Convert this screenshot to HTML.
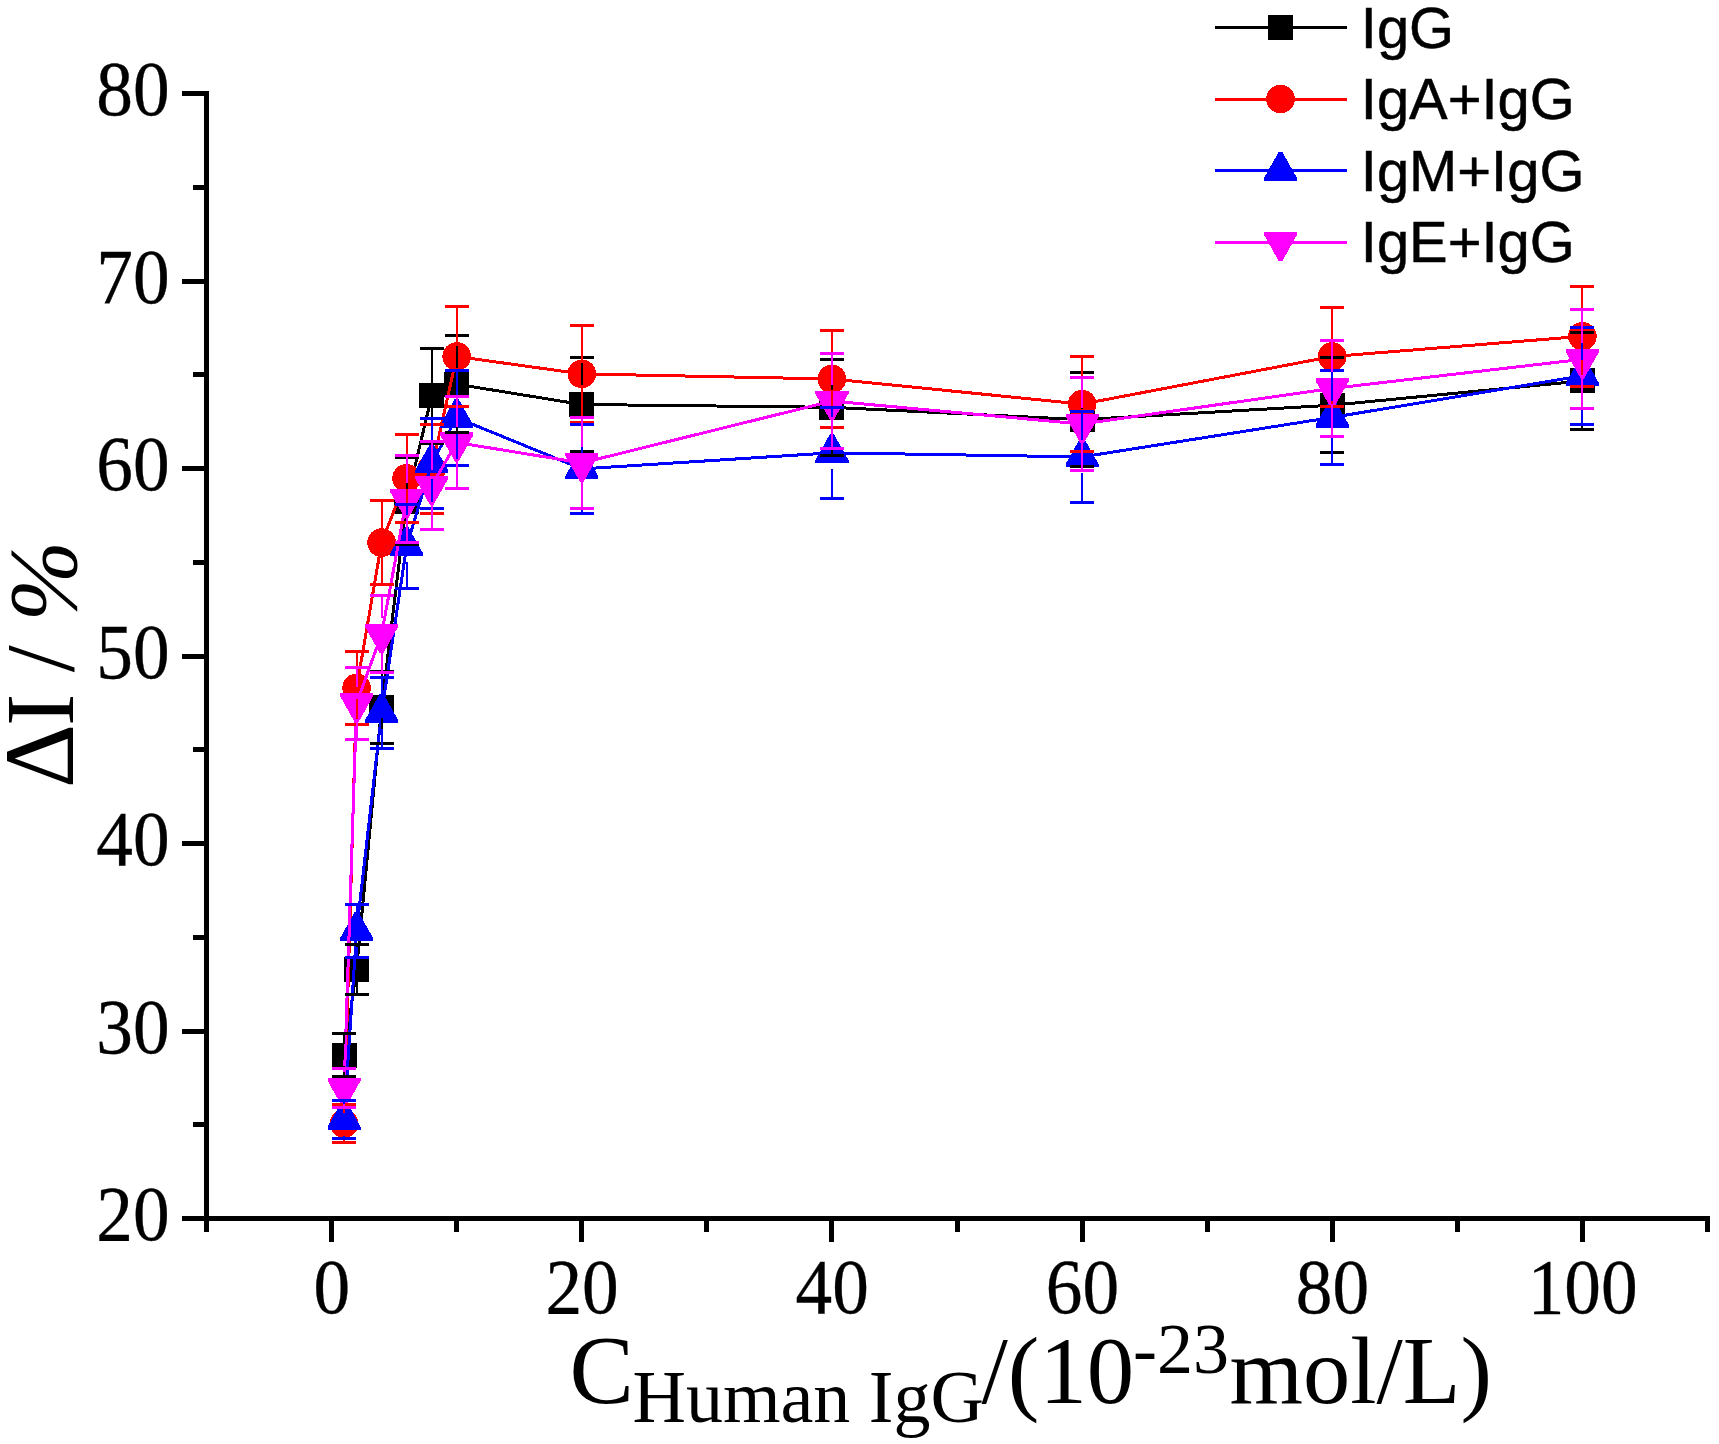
<!DOCTYPE html>
<html lang="en"><head><meta charset="utf-8"><title>ΔI / % vs C Human IgG</title>
<style>html,body{margin:0;padding:0;background:#fff}body{width:1719px;height:1444px;overflow:hidden}svg{display:block}</style>
</head><body>
<svg width="1719" height="1444" viewBox="0 0 1719 1444">
<rect width="1719" height="1444" fill="#ffffff"/>
<g stroke="#000" stroke-width="5" fill="none" shape-rendering="crispEdges">
<line x1="206.5" y1="91.0" x2="206.5" y2="1232"/>
<line x1="182" y1="1218.5" x2="1710" y2="1218.5"/>
<line x1="193" y1="1124.8" x2="206.5" y2="1124.8"/>
<line x1="182" y1="1031.0" x2="206.5" y2="1031.0"/>
<line x1="193" y1="937.2" x2="206.5" y2="937.2"/>
<line x1="182" y1="843.5" x2="206.5" y2="843.5"/>
<line x1="193" y1="749.8" x2="206.5" y2="749.8"/>
<line x1="182" y1="656.0" x2="206.5" y2="656.0"/>
<line x1="193" y1="562.2" x2="206.5" y2="562.2"/>
<line x1="182" y1="468.5" x2="206.5" y2="468.5"/>
<line x1="193" y1="374.8" x2="206.5" y2="374.8"/>
<line x1="182" y1="281.0" x2="206.5" y2="281.0"/>
<line x1="193" y1="187.2" x2="206.5" y2="187.2"/>
<line x1="182" y1="93.5" x2="206.5" y2="93.5"/>
<line x1="206.5" y1="1218.5" x2="206.5" y2="1232"/>
<line x1="331.6" y1="1218.5" x2="331.6" y2="1242"/>
<line x1="456.7" y1="1218.5" x2="456.7" y2="1232"/>
<line x1="581.8" y1="1218.5" x2="581.8" y2="1242"/>
<line x1="706.8" y1="1218.5" x2="706.8" y2="1232"/>
<line x1="831.9" y1="1218.5" x2="831.9" y2="1242"/>
<line x1="957.0" y1="1218.5" x2="957.0" y2="1232"/>
<line x1="1082.1" y1="1218.5" x2="1082.1" y2="1242"/>
<line x1="1207.2" y1="1218.5" x2="1207.2" y2="1232"/>
<line x1="1332.2" y1="1218.5" x2="1332.2" y2="1242"/>
<line x1="1457.3" y1="1218.5" x2="1457.3" y2="1232"/>
<line x1="1582.4" y1="1218.5" x2="1582.4" y2="1242"/>
<line x1="1707.5" y1="1218.5" x2="1707.5" y2="1232"/>
</g>
<g font-family="'Liberation Serif', 'Times New Roman', serif" font-size="78" fill="#000" stroke="#000" stroke-width="0.35">
<text transform="translate(169.6,1240.1) scale(0.94,1)" text-anchor="end">20</text>
<text transform="translate(169.6,1052.6) scale(0.94,1)" text-anchor="end">30</text>
<text transform="translate(169.6,865.1) scale(0.94,1)" text-anchor="end">40</text>
<text transform="translate(169.6,677.6) scale(0.94,1)" text-anchor="end">50</text>
<text transform="translate(169.6,490.1) scale(0.94,1)" text-anchor="end">60</text>
<text transform="translate(169.6,302.6) scale(0.94,1)" text-anchor="end">70</text>
<text transform="translate(169.6,115.1) scale(0.94,1)" text-anchor="end">80</text>
<text transform="translate(331.9,1313) scale(0.94,1)" text-anchor="middle">0</text>
<text transform="translate(582.1,1313) scale(0.94,1)" text-anchor="middle">20</text>
<text transform="translate(832.2,1313) scale(0.94,1)" text-anchor="middle">40</text>
<text transform="translate(1082.4,1313) scale(0.94,1)" text-anchor="middle">60</text>
<text transform="translate(1332.5,1313) scale(0.94,1)" text-anchor="middle">80</text>
<text transform="translate(1582.7,1313) scale(0.94,1)" text-anchor="middle">100</text>
</g>
<polyline points="344.1,1055.0 356.6,969.4 381.6,707.2 406.6,501.4 431.7,395.9 456.7,384.2 581.8,404.5 831.9,407.3 1082.1,419.7 1332.2,405.2 1582.4,380.9" fill="none" stroke="#000000" stroke-width="3" stroke-linejoin="round" shape-rendering="crispEdges"/>
<g shape-rendering="crispEdges">
<rect x="331.6" y="1042.5" width="25" height="25" fill="#000000"/>
<rect x="344.1" y="956.9" width="25" height="25" fill="#000000"/>
<rect x="369.1" y="694.7" width="25" height="25" fill="#000000"/>
<rect x="394.1" y="488.9" width="25" height="25" fill="#000000"/>
<rect x="419.2" y="383.4" width="25" height="25" fill="#000000"/>
<rect x="444.2" y="371.7" width="25" height="25" fill="#000000"/>
<rect x="569.3" y="392.0" width="25" height="25" fill="#000000"/>
<rect x="819.4" y="394.8" width="25" height="25" fill="#000000"/>
<rect x="1069.6" y="407.2" width="25" height="25" fill="#000000"/>
<rect x="1319.7" y="392.7" width="25" height="25" fill="#000000"/>
<rect x="1569.9" y="368.4" width="25" height="25" fill="#000000"/>
</g>
<polyline points="344.1,1123.6 356.6,687.9 381.6,542.6 406.6,478.3 431.7,468.9 456.7,356.5 581.8,373.9 831.9,379.0 1082.1,404.1 1332.2,356.5 1582.4,336.3" fill="none" stroke="#ff0000" stroke-width="3" stroke-linejoin="round" shape-rendering="crispEdges"/>
<g shape-rendering="crispEdges">
<circle cx="344.1" cy="1123.6" r="14.3" fill="#ff0000"/>
<circle cx="356.6" cy="687.9" r="14.3" fill="#ff0000"/>
<circle cx="381.6" cy="542.6" r="14.3" fill="#ff0000"/>
<circle cx="406.6" cy="478.3" r="14.3" fill="#ff0000"/>
<circle cx="431.7" cy="468.9" r="14.3" fill="#ff0000"/>
<circle cx="456.7" cy="356.5" r="14.3" fill="#ff0000"/>
<circle cx="581.8" cy="373.9" r="14.3" fill="#ff0000"/>
<circle cx="831.9" cy="379.0" r="14.3" fill="#ff0000"/>
<circle cx="1082.1" cy="404.1" r="14.3" fill="#ff0000"/>
<circle cx="1332.2" cy="356.5" r="14.3" fill="#ff0000"/>
<circle cx="1582.4" cy="336.3" r="14.3" fill="#ff0000"/>
</g>
<polyline points="344.1,1119.5 356.6,930.9 381.6,712.8 406.6,546.2 431.7,463.1 456.7,417.8 581.8,468.9 831.9,452.8 1082.1,456.9 1332.2,417.4 1582.4,375.8" fill="none" stroke="#0000ff" stroke-width="3" stroke-linejoin="round" shape-rendering="crispEdges"/>
<g shape-rendering="crispEdges">
<polygon points="342.4,1100.3 345.8,1100.3 360.7,1126.9 360.7,1129.6 327.5,1129.6 327.5,1126.9" fill="#0000ff"/>
<polygon points="354.9,911.7 358.3,911.7 373.2,938.3 373.2,941.0 340.0,941.0 340.0,938.3" fill="#0000ff"/>
<polygon points="379.9,693.6 383.3,693.6 398.2,720.2 398.2,722.9 365.0,722.9 365.0,720.2" fill="#0000ff"/>
<polygon points="404.9,527.0 408.3,527.0 423.2,553.6 423.2,556.3 390.0,556.3 390.0,553.6" fill="#0000ff"/>
<polygon points="430.0,443.9 433.4,443.9 448.3,470.5 448.3,473.2 415.1,473.2 415.1,470.5" fill="#0000ff"/>
<polygon points="455.0,398.6 458.4,398.6 473.3,425.2 473.3,427.9 440.1,427.9 440.1,425.2" fill="#0000ff"/>
<polygon points="580.1,449.7 583.5,449.7 598.4,476.3 598.4,479.0 565.2,479.0 565.2,476.3" fill="#0000ff"/>
<polygon points="830.2,433.6 833.6,433.6 848.5,460.2 848.5,462.9 815.3,462.9 815.3,460.2" fill="#0000ff"/>
<polygon points="1080.4,437.7 1083.8,437.7 1098.7,464.3 1098.7,467.0 1065.5,467.0 1065.5,464.3" fill="#0000ff"/>
<polygon points="1330.5,398.2 1333.9,398.2 1348.8,424.8 1348.8,427.5 1315.6,427.5 1315.6,424.8" fill="#0000ff"/>
<polygon points="1580.7,356.6 1584.1,356.6 1599.0,383.2 1599.0,385.9 1565.8,385.9 1565.8,383.2" fill="#0000ff"/>
</g>
<polyline points="344.1,1088.0 356.6,703.4 381.6,634.1 406.6,499.1 431.7,485.8 456.7,442.5 581.8,462.9 831.9,401.1 1082.1,424.0 1332.2,388.4 1582.4,359.3" fill="none" stroke="#ff00ff" stroke-width="3" stroke-linejoin="round" shape-rendering="crispEdges"/>
<g shape-rendering="crispEdges">
<polygon points="342.4,1107.2 345.8,1107.2 360.7,1080.6 360.7,1077.9 327.5,1077.9 327.5,1080.6" fill="#ff00ff"/>
<polygon points="354.9,722.6 358.3,722.6 373.2,696.0 373.2,693.3 340.0,693.3 340.0,696.0" fill="#ff00ff"/>
<polygon points="379.9,653.3 383.3,653.3 398.2,626.7 398.2,624.0 365.0,624.0 365.0,626.7" fill="#ff00ff"/>
<polygon points="404.9,518.3 408.3,518.3 423.2,491.7 423.2,489.0 390.0,489.0 390.0,491.7" fill="#ff00ff"/>
<polygon points="430.0,505.0 433.4,505.0 448.3,478.4 448.3,475.7 415.1,475.7 415.1,478.4" fill="#ff00ff"/>
<polygon points="455.0,461.7 458.4,461.7 473.3,435.1 473.3,432.4 440.1,432.4 440.1,435.1" fill="#ff00ff"/>
<polygon points="580.1,482.1 583.5,482.1 598.4,455.5 598.4,452.8 565.2,452.8 565.2,455.5" fill="#ff00ff"/>
<polygon points="830.2,420.3 833.6,420.3 848.5,393.7 848.5,391.0 815.3,391.0 815.3,393.7" fill="#ff00ff"/>
<polygon points="1080.4,443.2 1083.8,443.2 1098.7,416.6 1098.7,413.9 1065.5,413.9 1065.5,416.6" fill="#ff00ff"/>
<polygon points="1330.5,407.6 1333.9,407.6 1348.8,381.0 1348.8,378.3 1315.6,378.3 1315.6,381.0" fill="#ff00ff"/>
<polygon points="1580.7,378.5 1584.1,378.5 1599.0,351.9 1599.0,349.2 1565.8,349.2 1565.8,351.9" fill="#ff00ff"/>
</g>
<g stroke="#000000" stroke-width="3" fill="none" shape-rendering="crispEdges">
<path d="M344.1,1033.6V1044.0M344.1,1066.0V1076.4" stroke-width="2"/>
<path d="M332.1,1033.6H356.1M332.1,1076.4H356.1"/>
<path d="M356.6,944.6V958.4M356.6,980.4V994.1" stroke-width="2"/>
<path d="M344.6,944.6H368.6M344.6,994.1H368.6"/>
<path d="M381.6,671.4V696.2M381.6,718.2V743.0" stroke-width="2"/>
<path d="M369.6,671.4H393.6M369.6,743.0H393.6"/>
<path d="M406.6,457.9V490.4M406.6,512.4V544.8" stroke-width="2"/>
<path d="M394.6,457.9H418.6M394.6,544.8H418.6"/>
<path d="M431.7,348.1V384.9M431.7,406.9V443.6" stroke-width="2"/>
<path d="M419.7,348.1H443.7M419.7,443.6H443.7"/>
<path d="M456.7,335.9V373.2M456.7,395.2V432.6" stroke-width="2"/>
<path d="M444.7,335.9H468.7M444.7,432.6H468.7"/>
<path d="M581.8,357.1V393.5M581.8,415.5V451.9" stroke-width="2"/>
<path d="M569.8,357.1H593.8M569.8,451.9H593.8"/>
<path d="M831.9,359.5V396.3M831.9,418.3V455.1" stroke-width="2"/>
<path d="M819.9,359.5H843.9M819.9,455.1H843.9"/>
<path d="M1082.1,372.8V408.7M1082.1,430.7V466.5" stroke-width="2"/>
<path d="M1070.1,372.8H1094.1M1070.1,466.5H1094.1"/>
<path d="M1332.2,357.6V394.2M1332.2,416.2V452.8" stroke-width="2"/>
<path d="M1320.2,357.6H1344.2M1320.2,452.8H1344.2"/>
<path d="M1582.4,332.5V369.9M1582.4,391.9V429.2" stroke-width="2"/>
<path d="M1570.4,332.5H1594.4M1570.4,429.2H1594.4"/>
</g>
<g stroke="#ff0000" stroke-width="3" fill="none" shape-rendering="crispEdges">
<path d="M344.1,1104.9V1112.6M344.1,1134.6V1142.3" stroke-width="2"/>
<path d="M332.1,1104.9H356.1M332.1,1142.3H356.1"/>
<path d="M356.6,651.7V676.9M356.6,698.9V724.0" stroke-width="2"/>
<path d="M344.6,651.7H368.6M344.6,724.0H368.6"/>
<path d="M381.6,500.6V531.6M381.6,553.6V584.6" stroke-width="2"/>
<path d="M369.6,500.6H393.6M369.6,584.6H393.6"/>
<path d="M406.6,434.1V467.3M406.6,489.3V522.5" stroke-width="2"/>
<path d="M394.6,434.1H418.6M394.6,522.5H418.6"/>
<path d="M431.7,424.0V457.9M431.7,479.9V513.9" stroke-width="2"/>
<path d="M419.7,424.0H443.7M419.7,513.9H443.7"/>
<path d="M456.7,306.8V345.5M456.7,367.5V406.2" stroke-width="2"/>
<path d="M444.7,306.8H468.7M444.7,406.2H468.7"/>
<path d="M581.8,325.2V362.9M581.8,384.9V422.7" stroke-width="2"/>
<path d="M569.8,325.2H593.8M569.8,422.7H593.8"/>
<path d="M831.9,330.6V368.0M831.9,390.0V427.3" stroke-width="2"/>
<path d="M819.9,330.6H843.9M819.9,427.3H843.9"/>
<path d="M1082.1,356.5V393.1M1082.1,415.1V451.7" stroke-width="2"/>
<path d="M1070.1,356.5H1094.1M1070.1,451.7H1094.1"/>
<path d="M1332.2,307.0V345.5M1332.2,367.5V406.0" stroke-width="2"/>
<path d="M1320.2,307.0H1344.2M1320.2,406.0H1344.2"/>
<path d="M1582.4,286.0V325.3M1582.4,347.3V386.5" stroke-width="2"/>
<path d="M1570.4,286.0H1594.4M1570.4,386.5H1594.4"/>
</g>
<g stroke="#0000ff" stroke-width="3" fill="none" shape-rendering="crispEdges">
<path d="M344.1,1100.4V1103.5M344.1,1135.5V1138.6" stroke-width="2"/>
<path d="M332.1,1100.4H356.1M332.1,1138.6H356.1"/>
<path d="M356.6,904.5V914.9M356.6,946.9V957.4" stroke-width="2"/>
<path d="M344.6,904.5H368.6M344.6,957.4H368.6"/>
<path d="M381.6,677.5V696.8M381.6,728.8V748.0" stroke-width="2"/>
<path d="M369.6,677.5H393.6M369.6,748.0H393.6"/>
<path d="M406.6,504.2V530.2M406.6,562.2V588.1" stroke-width="2"/>
<path d="M394.6,504.2H418.6M394.6,588.1H418.6"/>
<path d="M431.7,418.0V447.1M431.7,479.1V508.3" stroke-width="2"/>
<path d="M419.7,418.0H443.7M419.7,508.3H443.7"/>
<path d="M456.7,370.4V401.8M456.7,433.8V465.2" stroke-width="2"/>
<path d="M444.7,370.4H468.7M444.7,465.2H468.7"/>
<path d="M581.8,424.2V452.9M581.8,484.9V513.7" stroke-width="2"/>
<path d="M569.8,424.2H593.8M569.8,513.7H593.8"/>
<path d="M831.9,407.5V436.8M831.9,468.8V498.2" stroke-width="2"/>
<path d="M819.9,407.5H843.9M819.9,498.2H843.9"/>
<path d="M1082.1,411.4V440.9M1082.1,472.9V502.5" stroke-width="2"/>
<path d="M1070.1,411.4H1094.1M1070.1,502.5H1094.1"/>
<path d="M1332.2,370.0V401.4M1332.2,433.4V464.8" stroke-width="2"/>
<path d="M1320.2,370.0H1344.2M1320.2,464.8H1344.2"/>
<path d="M1582.4,327.3V359.8M1582.4,391.8V424.3" stroke-width="2"/>
<path d="M1570.4,327.3H1594.4M1570.4,424.3H1594.4"/>
</g>
<g stroke="#ff00ff" stroke-width="3" fill="none" shape-rendering="crispEdges">
<path d="M344.1,1068.3V1072.0M344.1,1104.0V1107.7" stroke-width="2"/>
<path d="M332.1,1068.3H356.1M332.1,1107.7H356.1"/>
<path d="M356.6,667.8V687.4M356.6,719.4V739.0" stroke-width="2"/>
<path d="M344.6,667.8H368.6M344.6,739.0H368.6"/>
<path d="M381.6,595.6V618.1M381.6,650.1V672.5" stroke-width="2"/>
<path d="M369.6,595.6H393.6M369.6,672.5H393.6"/>
<path d="M406.6,455.5V483.1M406.6,515.1V542.8" stroke-width="2"/>
<path d="M394.6,455.5H418.6M394.6,542.8H418.6"/>
<path d="M431.7,441.8V469.8M431.7,501.8V529.9" stroke-width="2"/>
<path d="M419.7,441.8H443.7M419.7,529.9H443.7"/>
<path d="M456.7,396.6V426.5M456.7,458.5V488.4" stroke-width="2"/>
<path d="M444.7,396.6H468.7M444.7,488.4H468.7"/>
<path d="M581.8,417.8V446.9M581.8,478.9V508.1" stroke-width="2"/>
<path d="M569.8,417.8H593.8M569.8,508.1H593.8"/>
<path d="M831.9,353.3V385.1M831.9,417.1V448.9" stroke-width="2"/>
<path d="M819.9,353.3H843.9M819.9,448.9H843.9"/>
<path d="M1082.1,377.3V408.0M1082.1,440.0V470.6" stroke-width="2"/>
<path d="M1070.1,377.3H1094.1M1070.1,470.6H1094.1"/>
<path d="M1332.2,340.2V372.4M1332.2,404.4V436.5" stroke-width="2"/>
<path d="M1320.2,340.2H1344.2M1320.2,436.5H1344.2"/>
<path d="M1582.4,309.8V343.3M1582.4,375.3V408.8" stroke-width="2"/>
<path d="M1570.4,309.8H1594.4M1570.4,408.8H1594.4"/>
</g>
<g font-family="'Liberation Sans', Arial, sans-serif" font-size="57.9" fill="#000">
<line x1="1215" y1="27.5" x2="1346.8" y2="27.5" stroke="#000000" stroke-width="3" shape-rendering="crispEdges"/>
<g shape-rendering="crispEdges"><rect x="1268.0" y="15.0" width="25" height="25" fill="#000000"/></g>
<text x="1360.8" y="47.5" stroke="#000" stroke-width="0.5">IgG</text>
<line x1="1215" y1="99.5" x2="1346.8" y2="99.5" stroke="#ff0000" stroke-width="3" shape-rendering="crispEdges"/>
<g shape-rendering="crispEdges"><circle cx="1280.5" cy="99.0" r="14.3" fill="#ff0000"/></g>
<text x="1360.8" y="119.0" stroke="#000" stroke-width="0.5">IgA+IgG</text>
<line x1="1215" y1="170.5" x2="1346.8" y2="170.5" stroke="#0000ff" stroke-width="3" shape-rendering="crispEdges"/>
<g shape-rendering="crispEdges"><polygon points="1278.8,151.7 1282.2,151.7 1297.1,178.3 1297.1,181.0 1263.9,181.0 1263.9,178.3" fill="#0000ff"/></g>
<text x="1360.8" y="190.8" stroke="#000" stroke-width="0.5">IgM+IgG</text>
<line x1="1215" y1="242.0" x2="1346.8" y2="242.0" stroke="#ff00ff" stroke-width="3" shape-rendering="crispEdges"/>
<g shape-rendering="crispEdges"><polygon points="1278.8,261.2 1282.2,261.2 1297.1,234.6 1297.1,231.9 1263.9,231.9 1263.9,234.6" fill="#ff00ff"/></g>
<text x="1360.8" y="261.8" stroke="#000" stroke-width="0.5">IgE+IgG</text>
</g>
<g font-family="'Liberation Serif', 'Times New Roman', serif" fill="#000">
<text id="xl" x="569.5" y="1402.5" font-size="96.5">C<tspan font-size="74" x="632.5" dy="19.5">Human IgG</tspan><tspan font-size="94.8" x="981.5" dy="-19.5">/(10</tspan><tspan font-size="72" x="1133" dy="-29.5">-23</tspan><tspan font-size="94.5" x="1229.5" dy="29.5">mol/L)</tspan></text>
<g transform="translate(73,787.5) rotate(-90)" font-size="97"><text x="-0.5" y="0"><tspan font-size="99.5">Δ</tspan><tspan x="61.4">I </tspan><tspan x="115.3">/ </tspan><tspan x="166" dy="3" font-style="italic">%</tspan></text></g>
</g>
</svg>
</body></html>
